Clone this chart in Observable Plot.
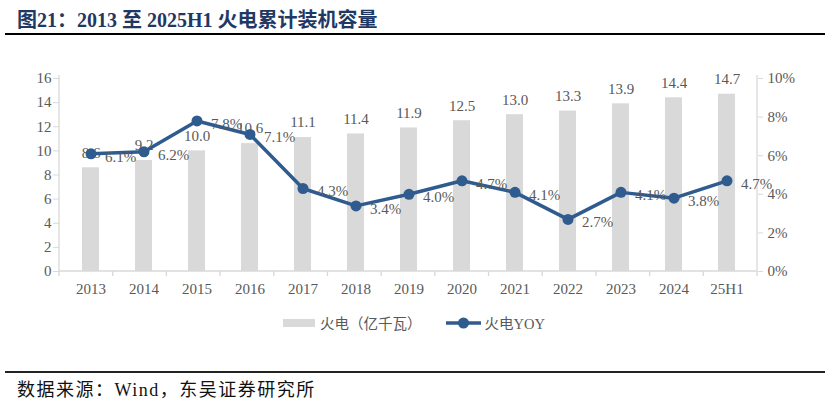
<!DOCTYPE html>
<html>
<head>
<meta charset="utf-8">
<script src="https://cdn.jsdelivr.net/npm/d3@7"></script>
<script src="https://cdn.jsdelivr.net/npm/@observablehq/plot@0.6"></script>
<style>
  html, body { margin: 0; padding: 0; background: #fff; }
  #page { position: relative; width: 825px; height: 402px; overflow: hidden; }
  #title { position: absolute; left: 17px; top: 4px; font-family: "Liberation Serif", "Noto Sans CJK SC", serif; font-weight: bold; font-size: 20px; color: #1f3864; white-space: nowrap; }
  #titleLine { position: absolute; left: 5px; right: 0; top: 33px; height: 2px; background: #000; }
  #chart { position: absolute; left: 0; top: 40px; }
  #legend { position: absolute; top: 312px; left: 283px; font-family: "Liberation Serif", "Noto Sans CJK SC", serif; font-size: 14.5px; color: #595959; display: flex; align-items: center; white-space: nowrap; }
  #legend .item { display: flex; align-items: center; }
  #footLine { position: absolute; left: 5px; right: 0; top: 371px; height: 2px; background: #222; }
  #source { position: absolute; left: 17px; top: 375px; font-family: "Liberation Serif", "Noto Sans CJK SC", serif; font-size: 18px; letter-spacing: 1.5px; color: #111; white-space: nowrap; }
</style>
</head>
<body>
<div id="page">
  <div id="title">图21：2013 至 2025H1 火电累计装机容量</div>
  <div id="titleLine"></div>
  <div id="chart"></div>
  <div id="legend"></div>
  <div id="footLine"></div>
  <div id="source">数据来源：Wind，东吴证券研究所</div>
</div>
<script>
// ---- data ----
const years = ["2013","2014","2015","2016","2017","2018","2019","2020","2021","2022","2023","2024","25H1"];
const capacity = [8.6, 9.2, 10.0, 10.6, 11.1, 11.4, 11.9, 12.5, 13.0, 13.3, 13.9, 14.4, 14.7]; // 亿千瓦
const yoy = [6.1, 6.2, 7.8, 7.1, 4.3, 3.4, 4.0, 4.7, 4.1, 2.7, 4.1, 3.8, 4.7]; // %
const leftTicks = [0, 2, 4, 6, 8, 10, 12, 14, 16];
const rightTicks = [0, 2, 4, 6, 8, 10]; // %
const seriesNames = ["火电（亿千瓦）", "火电YOY"];

const leftMax = 16, rightMax = 10;
const ratio = leftMax / rightMax;

const barColor = "#d9d9d9";
const lineColor = "#2f5b8f";
const textColor = "#595959";
const axisColor = "#d9d9d9";

const data = years.map((year, i) => ({year, cap: capacity[i], yoy: yoy[i]}));

// axis lines + category boundary ticks
function frameLines(index, scales, values, dims) {
  const {width, height, marginLeft, marginRight, marginTop, marginBottom} = dims;
  const x0 = marginLeft, x1 = width - marginRight;
  const yb = height - marginBottom, yt = marginTop - 3;
  const g = d3.create("svg:g").attr("stroke", axisColor).attr("stroke-width", 1.3).attr("fill", "none");
  g.append("line").attr("x1", x0).attr("x2", x0).attr("y1", yt).attr("y2", yb);
  g.append("line").attr("x1", x1).attr("x2", x1).attr("y1", yt).attr("y2", yb);
  g.append("line").attr("x1", x0).attr("x2", x1).attr("y1", yb).attr("y2", yb);
  const step = (x1 - x0) / years.length;
  d3.range(years.length + 1).forEach(i => {
    const bx = x0 + i * step;
    g.append("line").attr("x1", bx).attr("x2", bx).attr("y1", yb).attr("y2", yb + 5);
  });
  return g.node();
}

const fs = 15;
const chart = Plot.plot({
  width: 825,
  height: 270,
  marginTop: 38,
  marginBottom: 39,
  marginLeft: 59,
  marginRight: 68,
  style: {fontFamily: "'Liberation Serif', 'Noto Sans CJK SC', serif", fontSize: fs + "px", color: textColor, background: "transparent"},
  x: {domain: years, paddingInner: 0.68, paddingOuter: 0.34, label: null},
  y: {domain: [0, leftMax], label: null},
  marks: [
    frameLines,
    Plot.barY(data, {x: "year", y: "cap", fill: barColor}),
    Plot.text(data, {x: "year", y: "cap", text: d => d.cap.toFixed(1), dy: -15, fill: textColor, fontSize: fs}),
    Plot.line(data, {x: "year", y: d => d.yoy * ratio, stroke: lineColor, strokeWidth: 3.5}),
    Plot.dot(data, {x: "year", y: d => d.yoy * ratio, r: 5.5, fill: lineColor, stroke: "none"}),
    Plot.text(data, {x: "year", y: d => d.yoy * ratio, text: d => d.yoy.toFixed(1) + "%", textAnchor: "start", dx: 14, dy: 3, fill: textColor, fontSize: fs}),
    Plot.axisY({anchor: "left", ticks: leftTicks, tickSize: 6, tickPadding: 2, stroke: axisColor, fill: textColor, label: null, fontSize: fs}),
    Plot.axisY({anchor: "right", ticks: rightTicks.map(t => t * ratio), tickFormat: d => Math.round(d / ratio) + "%", tickSize: 5, tickPadding: 5, stroke: axisColor, fill: textColor, label: null, fontSize: fs}),
    Plot.axisX({anchor: "bottom", tickSize: 0, tickPadding: 12, fill: textColor, label: null, fontSize: fs})
  ]
});
document.getElementById("chart").appendChild(chart);

// legend
const legend = document.getElementById("legend");
legend.innerHTML =
  `<span class="item"><svg width="32" height="8" style="margin-right:5px"><rect width="32" height="8" fill="${barColor}"/></svg>${seriesNames[0]}</span>` +
  `<span class="item" style="margin-left:23px"><svg width="37" height="12" style="margin-right:3px"><line x1="1" x2="36" y1="6" y2="6" stroke="${lineColor}" stroke-width="3.5"/><circle cx="18.5" cy="6" r="5.5" fill="${lineColor}"/></svg>${seriesNames[1]}</span>`;
</script>
</body>
</html>
